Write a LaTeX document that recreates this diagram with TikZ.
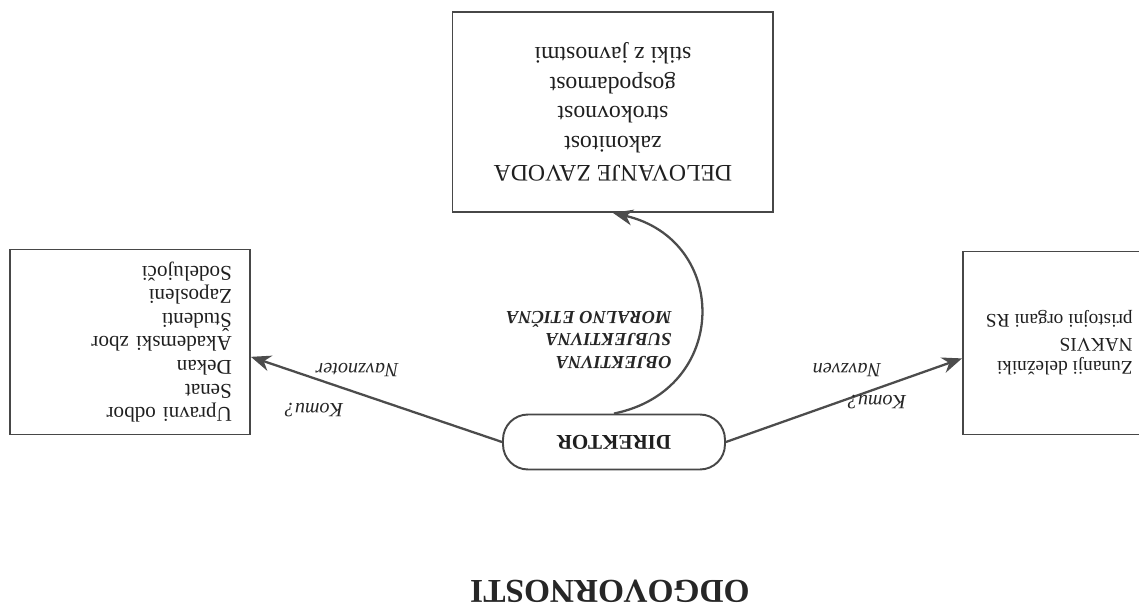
\documentclass[tikz,border=0pt]{standalone}
\usepackage{fontspec}
\setmainfont{Liberation Serif}
\usetikzlibrary{arrows.meta}
\tikzstyle{box}=[draw=black!72,line width=1.1pt,fill=white,shape=rectangle,text=black!88]
\tikzstyle{listbox}=[box,align=left,font=\fontsize{12}{13.4}\selectfont]
\tikzstyle{director}=[box,minimum width=4.44cm,minimum height=1.1cm,rounded corners=0.5cm,font=\bfseries\fontsize{12}{14}\selectfont]
\tikzstyle{lbl}=[text=black!85,font=\itshape\fontsize{11.5}{13}\selectfont]
\tikzstyle{kind}=[text=black!85,align=left,inner sep=0pt,font=\bfseries\itshape\fontsize{10.5}{13}\selectfont]
\tikzstyle{arrow}=[draw=black!70,line width=1.3pt,-{Stealth[length=4mm,width=3.2mm]}]

\begin{document}
\begin{tikzpicture}[x=0.02cm,y=-0.02cm,rotate=180,transform shape]
	\useasboundingbox (0,0) rectangle (1139,612);
	\clip (0,0) rectangle (1139,612);
	\node[text=black!85,font=\bfseries\fontsize{19}{22}\selectfont] (title) at (529,21) {ODGOVORNOSTI};
	\node[director] (dir) at (525,170) {DIREKTOR};
	\node[box,minimum width=6.42cm,minimum height=4cm,align=center,
		font=\fontsize{13.5}{16.8}\selectfont] (zavod) at (526,500)
		{DELOVANJE ZAVODA\\zakonitost\\strokovnost\\gospodarnost\\stiki z javnostmi};
	\node[listbox,text width=4.08cm,inner xsep=0.36cm,minimum height=3.7cm] (notr) at (1009,270)
		{Upravni odbor\\Senat\\Dekan\\Akademski zbor\\Študenti\\Zaposleni\\Sodelujoči};
	\node[listbox,font=\fontsize{11}{13.4}\selectfont,inner xsep=0.46cm,minimum height=3.66cm,anchor=east] (zun) at (177,269)
		{Zunanji deležniki\\NAKVIS\\pristojni organi RS};
	\draw[arrow] (dir.east) -- (notr.173);
	\draw[arrow] (dir.west) -- (zun.9);
	\draw[arrow] (dir.south) .. controls (409,222) and (409,372) .. (zavod.north);
	\node[lbl] (navznoter) at (782,242) {Navznoter};
	\node[lbl] (komunotr) at (825,202) {Komu?};
	\node[lbl] (navzven) at (292,242) {Navzven};
	\node[lbl] (komuzun) at (262,210) {Komu?};
	\node[kind,anchor=west] (vrste) at (467,272) {OBJEKTIVNA\\SUBJEKTIVNA\\MORALNO ETIČNA};
\end{tikzpicture}
\end{document}
